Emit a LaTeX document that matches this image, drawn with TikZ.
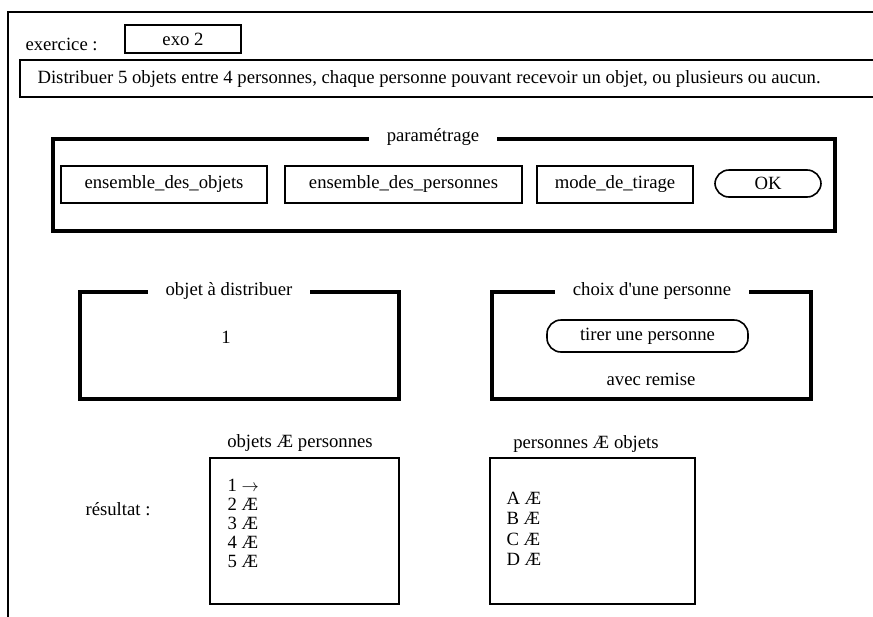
\documentclass[tikz,border=0pt]{standalone}
\usepackage{fontspec}
\setmainfont{Liberation Serif}
\begin{document}
\begin{tikzpicture}[x=1pt, y=-1pt, font=\fontsize{18.7}{20}\selectfont,
  champ/.style={draw, line width=1.6pt, inner sep=0pt},
  cadre/.style={draw, line width=4pt, inner sep=0pt},
  titre/.style={fill=white, inner xsep=18pt, inner ysep=1pt},
  bouton/.style={draw, line width=1.6pt, rounded corners=14pt, inner sep=0pt}]
\useasboundingbox (0,0) rectangle (873,616);
% cadre general et consigne
\coordinate (hautdroit) at (880,12);
\coordinate (basgauche) at (8,620);
\draw[line width=1.6pt] (hautdroit) -| (basgauche);
\coordinate (consHaut) at (880,60);
\coordinate (consBas) at (880,97);
\draw[line width=1.6pt] (consHaut) -- (20,60) -- (20,97) -- (consBas);
\node[anchor=west] (exercice) at (22,44) {exercice :};
\node[champ, minimum width=116pt, minimum height=28pt] (exo) at (183,39) {exo 2};
\node[anchor=west] (consigne) at (34,79) {Distribuer 5 objets entre 4 personnes, chaque personne pouvant recevoir un objet, ou plusieurs ou aucun.};
% parametrage
\node[cadre, minimum width=782pt, minimum height=92pt] (param) at (444,185) {};
\node[titre] (titreParam) at (433,137) {paramétrage};
\node[champ, minimum width=206pt, minimum height=37pt] (ensObjets) at (164,184.5) {ensemble\_des\_objets};
\node[champ, minimum width=237pt, minimum height=37pt] (ensPersonnes) at (403.5,184.5) {ensemble\_des\_personnes};
\node[champ, minimum width=156pt, minimum height=37pt] (modeTirage) at (615,184.5) {mode\_de\_tirage};
\node[bouton, minimum width=106pt, minimum height=27pt] (ok) at (768,183.5) {OK};
% objet a distribuer
\node[cadre, minimum width=319pt, minimum height=107pt] (objet) at (239.5,345.5) {};
\node[titre] (titreObjet) at (229,291) {objet à distribuer};
\node[] (numObjet) at (226,337) {1};
% choix d'une personne
\node[cadre, minimum width=319pt, minimum height=107pt] (choix) at (651.5,345.5) {};
\node[titre] (titreChoix) at (652,291) {choix d\textquotesingle une personne};
\node[bouton, minimum width=201pt, minimum height=32pt] (tirer) at (647.5,336) {tirer une personne};
\node[] (remise) at (651,379) {avec remise};
% resultat
\node[] (resultat) at (118,509) {résultat :};
\node[champ, minimum width=189pt, minimum height=146pt] (objPers) at (304.5,531) {};
\node[] (titreObjPers) at (300,443) {objets Æ personnes};
\node[anchor=west] (obj1) at (224,485) {1 $\rightarrow$};
\node[anchor=west] (obj2) at (224,504) {2 Æ};
\node[anchor=west] (obj3) at (224,523) {3 Æ};
\node[anchor=west] (obj4) at (224,542) {4 Æ};
\node[anchor=west] (obj5) at (224,561) {5 Æ};
\node[champ, minimum width=205pt, minimum height=146pt] (persObj) at (592.5,531) {};
\node[] (titrePersObj) at (586,444) {personnes Æ objets};
\node[anchor=west] (persA) at (503,498) {A Æ};
\node[anchor=west] (persB) at (503,518.5) {B Æ};
\node[anchor=west] (persC) at (503,539) {C Æ};
\node[anchor=west] (persD) at (503,559.5) {D Æ};
\end{tikzpicture}
\end{document}
